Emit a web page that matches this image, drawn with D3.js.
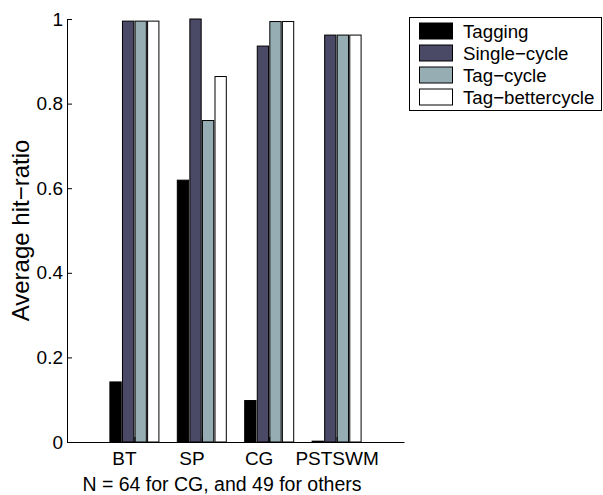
<!DOCTYPE html>
<html lang="en">
<head>
<meta charset="UTF-8">
<title>Average hit-ratio</title>
<script src="https://d3js.org/d3.v7.min.js"></script>
<style>
  body { margin: 0; background: #fff; }
  svg { display: block; }
  text { font-family: "Liberation Sans", Arial, Helvetica, sans-serif; fill: #000; }
  .tick text { white-space: pre; }
</style>
</head>
<body>
<div id="chart"></div>
<script>
// values
var categories = ["BT", "SP", "CG", "PSTSWM"];
// padded like a MATLAB char matrix, so the short names sit left of the tick
var tickLabels = ["BT    ", "SP    ", "CG    ", "PSTSWM"];
var seriesNames = ["Tagging", "Single\u2212cycle", "Tag\u2212cycle", "Tag\u2212bettercycle"];
var tagging = [0.142, 0.619, 0.098, 0.002];
var singleCycle = [0.995, 1.0, 0.936, 0.962];
var tagCycle = [0.995, 0.760, 0.994, 0.962];
var tagBetterCycle = [0.995, 0.864, 0.994, 0.962];
var yTicks = [0, 0.2, 0.4, 0.6, 0.8, 1];
var yTickLabels = ["0", "0.2", "0.4", "0.6", "0.8", "1"];

var colors = ["#000000", "#4a4966", "#95adb3", "#ffffff"];
var series = [tagging, singleCycle, tagCycle, tagBetterCycle];

var width = 603, height = 495;
var plotLeft = 67, plotRight = 404, plotTop = 19, plotBottom = 442;

var svg = d3.select("#chart").append("svg")
    .attr("width", width)
    .attr("height", height);

//x: group index 1..4 on a 0..5 range, y: ratio
var x = d3.scaleLinear().domain([0, 5]).range([plotLeft, plotRight]);
var y = d3.scaleLinear().domain([0, 1]).range([plotBottom, plotTop]);

var groupWidth = (x(1) - x(0)) * 0.727;
var sub = d3.scaleBand()
    .domain(d3.range(series.length))
    .range([-groupWidth / 2, groupWidth / 2])
    .paddingInner(0.1);

//bars, one group per category
var groups = svg.append("g").selectAll("g")
    .data(categories)
    .enter().append("g")
    .attr("transform", function(d, i) { return "translate(" + x(i + 1) + ",0)"; });

groups.selectAll("rect")
    .data(function(d, i) {
        return series.map(function(s, k) { return {k: k, v: s[i]}; });
    })
    .enter().append("rect")
    .attr("x", function(d) { return sub(d.k); })
    .attr("width", sub.bandwidth())
    .attr("y", function(d) { return y(d.v); })
    .attr("height", function(d) { return y(0) - y(d.v); })
    .attr("fill", function(d) { return colors[d.k]; })
    .attr("stroke", "#000")
    .attr("stroke-width", 1);

//axes, ticks point inward like matlab
var yAxis = d3.axisLeft(y)
    .tickValues(yTicks)
    .tickFormat(function(d, i) { return yTickLabels[i]; })
    .tickSizeInner(-5)
    .tickSizeOuter(0)
    .tickPadding(4);

var xAxis = d3.axisBottom(x)
    .tickValues([1, 2, 3, 4])
    .tickFormat(function(d, i) { return tickLabels[i]; })
    .tickSizeInner(-5)
    .tickSizeOuter(0)
    .tickPadding(10);

var gy = svg.append("g")
    .attr("transform", "translate(" + plotLeft + ",0)")
    .call(yAxis);

var gx = svg.append("g")
    .attr("transform", "translate(0," + plotBottom + ")")
    .call(xAxis);

[gx, gy].forEach(function(g) {
    g.selectAll("path, line").attr("stroke", "#000").attr("stroke-width", 1);
    g.selectAll("text").attr("font-size", 19).attr("font-family", null).attr("fill", "#000");
});

//axis titles
svg.append("text")
    .attr("transform", "rotate(-90)")
    .attr("x", -(plotTop + plotBottom) / 2)
    .attr("y", 29)
    .attr("text-anchor", "middle")
    .attr("font-size", 24)
    .text("Average hit\u2212ratio");

svg.append("text")
    .attr("x", 222)
    .attr("y", 491)
    .attr("text-anchor", "middle")
    .attr("font-size", 19.5)
    .text("N = 64 for CG, and 49 for others");

//legend
var legend = svg.append("g");
legend.append("rect")
    .attr("x", 409.5).attr("y", 17.5)
    .attr("width", 192).attr("height", 93)
    .attr("fill", "#fff").attr("stroke", "#000");

var rows = legend.selectAll("g.row")
    .data(seriesNames)
    .enter().append("g")
    .attr("class", "row")
    .attr("transform", function(d, i) { return "translate(0," + (31 + i * 22) + ")"; });

rows.append("rect")
    .attr("x", 419.5).attr("y", -8)
    .attr("width", 33).attr("height", 16)
    .attr("fill", function(d, i) { return colors[i]; })
    .attr("stroke", "#000");

rows.append("text")
    .attr("x", 463)
    .attr("y", 6.5)
    .attr("font-size", 18.7)
    .text(function(d) { return d; });
</script>
</body>
</html>
